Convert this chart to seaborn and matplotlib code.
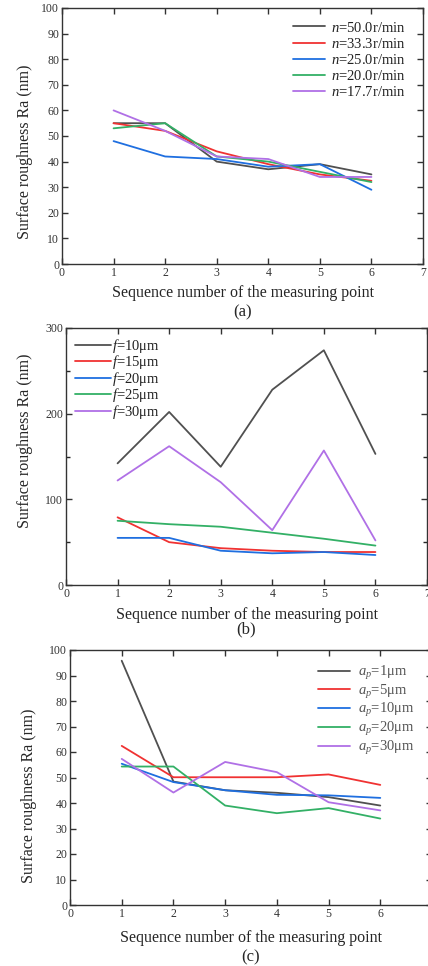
import pandas as pd
import numpy as np
from matplotlib import pyplot as plt
from matplotlib.ticker import MultipleLocator, FixedLocator
import seaborn as sns

# measuring points
points = [1, 2, 3, 4, 5, 6]

# (a) spindle speed
speed_labels = ['$n$=50.0r/min', '$n$=33.3r/min', '$n$=25.0r/min', '$n$=20.0r/min', '$n$=17.7r/min']
ra_n50 = [55, 55, 40, 37, 39, 35]
ra_n33 = [55, 52, 44, 39, 35, 32.5]
ra_n25 = [48, 42, 41, 38, 39, 29]
ra_n20 = [53, 55, 42, 40, 36, 32]
ra_n17 = [60, 52, 42, 41, 34, 34]

# (b) feed
feed_labels = ['$f$=10μm', '$f$=15μm', '$f$=20μm', '$f$=25μm', '$f$=30μm']
ra_f10 = [142, 202, 138, 228, 274, 153]
ra_f15 = [79, 50, 43, 40, 38.5, 38.5]
ra_f20 = [55, 55, 40, 37, 38.5, 35]
ra_f25 = [75, 71, 68, 61, 54, 46]
ra_f30 = [122, 162, 120, 64, 157, 52]

# (c) depth of cut
depth_labels = ['$a_p$=1μm', '$a_p$=5μm', '$a_p$=10μm', '$a_p$=20μm', '$a_p$=30μm']
ra_a1 = [95.8, 48.4, 45, 44, 42.3, 39]
ra_a5 = [62.4, 50.1, 50.1, 50.1, 51.2, 47.1]
ra_a10 = [55.4, 48.2, 45, 43.2, 43, 42]
ra_a20 = [54.3, 54.3, 39, 36, 38, 33.9]
ra_a30 = [57.3, 44.1, 56.1, 52.1, 40.3, 37.1]

colors = ['#505050', '#f03232', '#1f6fe0', '#33b066', '#b070e6']

sns.set_theme(style='ticks')
plt.rcParams['font.family'] = ['Liberation Serif', 'DejaVu Serif']
plt.rcParams['mathtext.fontset'] = 'custom'
plt.rcParams['mathtext.rm'] = 'Liberation Serif'
plt.rcParams['mathtext.it'] = 'Liberation Serif:italic'
plt.rcParams['axes.edgecolor'] = '#333333'
plt.rcParams['axes.linewidth'] = 1.0


def long_df(labels, series):
    rows = []
    for lab, vals in zip(labels, series):
        for x, y in zip(points, vals):
            rows.append({'point': x, 'Ra': y, 'group': lab})
    return pd.DataFrame(rows)


def draw_panel(ax, df, labels, ymax, ymajor, yminor, leg_opts, tag, tag_y, ylab_xy, xpad,
               xticks=range(0, 8), text_color='#222222'):
    sns.lineplot(data=df, x='point', y='Ra', hue='group', hue_order=labels,
                 palette=colors, linewidth=1.3, ax=ax, legend=True)
    ax.set_xlim(0, 7)
    ax.set_ylim(0, ymax)
    ax.xaxis.set_major_locator(FixedLocator(list(xticks)))
    ax.yaxis.set_major_locator(MultipleLocator(ymajor))
    if yminor:
        ax.yaxis.set_minor_locator(MultipleLocator(yminor))
    ax.tick_params(direction='in', top=True, right=True, length=4, width=1,
                   labelsize=8.5, colors='#333333', pad=2)
    ax.tick_params(which='minor', direction='in', right=True, left=True, length=3, width=1)
    ax.set_xlabel('Sequence number of the measuring point', fontsize=11.5, labelpad=xpad)
    ax.set_ylabel('Surface roughness Ra (nm)', fontsize=11.5)
    ax.yaxis.set_label_coords(*ylab_xy)
    leg = ax.legend(frameon=False, fontsize=10.5, borderaxespad=0.2, **leg_opts)
    for line in leg.get_lines():
        line.set_linewidth(1.3)
    for t in leg.get_texts():
        t.set_color(text_color)
    ax.text(0.5, tag_y, tag, transform=ax.transAxes, ha='center', va='center', fontsize=12)


W, H = 428, 966
fig = plt.figure(figsize=(W / 100, H / 100), dpi=100)

ax_a = fig.add_axes([62 / W, 1 - 264 / H, 361 / W, 256 / H])
draw_panel(ax_a, long_df(speed_labels, [ra_n50, ra_n33, ra_n25, ra_n20, ra_n17]),
           speed_labels, 100, 10, None,
           dict(loc='upper right', bbox_to_anchor=(0.975, 0.985), handlelength=2.2,
                handletextpad=0.4, labelspacing=0.15),
           '(a)', -0.19, (-0.08, 0.4375), 4.5)

ax_b = fig.add_axes([66 / W, 1 - 585 / H, 361 / W, 257 / H])
draw_panel(ax_b, long_df(feed_labels, [ra_f10, ra_f15, ra_f20, ra_f25, ra_f30]),
           feed_labels, 300, 100, 50,
           dict(loc='upper left', bbox_to_anchor=(0.0, 1.0), handlelength=2.5,
                handletextpad=0.05, labelspacing=-0.1),
           '(b)', -0.172, (-0.092, 0.562), 5)

ax_c = fig.add_axes([70 / W, 1 - 905 / H, 362 / W, 255 / H])
draw_panel(ax_c, long_df(depth_labels, [ra_a1, ra_a5, ra_a10, ra_a20, ra_a30]),
           depth_labels, 100, 10, None,
           dict(loc='upper right', bbox_to_anchor=(0.975, 0.98), handlelength=2.2,
                handletextpad=0.5, labelspacing=0.05),
           '(c)', -0.205, (-0.09, 0.43), 7, xticks=range(0, 7), text_color='#555555')

fig.savefig('out.png', dpi=100)
